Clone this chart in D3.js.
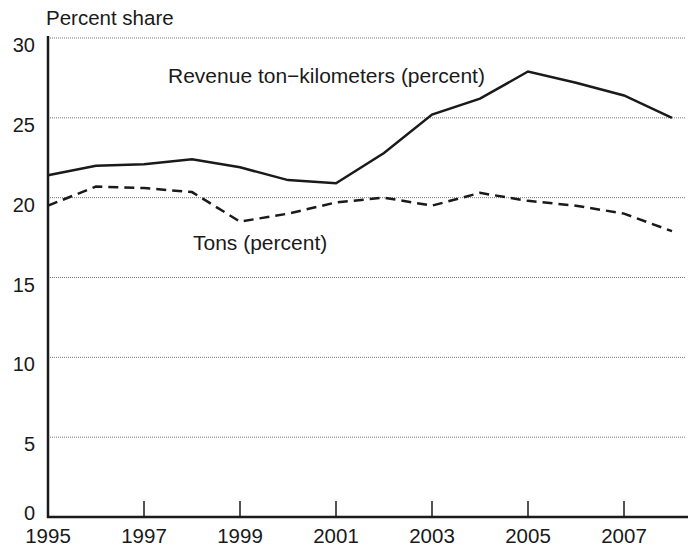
<!DOCTYPE html>
<html><head><meta charset="utf-8">
<script src="https://cdn.jsdelivr.net/npm/d3@7"></script>
<style>body{margin:0;background:#fff}svg{display:block}text{font-family:"Liberation Sans",Arial,sans-serif;fill:#1a1a1a}</style>
</head><body>
<svg id="c" width="688" height="549"></svg>
<script>
const years = [1995,1996,1997,1998,1999,2000,2001,2002,2003,2004,2005,2006,2007,2008];
const revenueTonKm = [21.4,22.0,22.1,22.4,21.9,21.1,20.9,22.8,25.2,26.2,27.9,27.2,26.4,25.0];
const tons = [19.5,20.7,20.6,20.35,18.5,19.0,19.7,20.0,19.5,20.3,19.8,19.5,19.0,17.9];
const yTicks = [0,5,10,15,20,25,30];
const xTicks = [1995,1997,1999,2001,2003,2005,2007];

const svg = d3.select("#c");
const x = d3.scaleLinear().domain([1995,2008]).range([48,672]);
const y = d3.scaleLinear().domain([0,30]).range([517,38]);

// gridlines
svg.append("g").selectAll("line").data(yTicks.filter(d=>d>0)).join("line")
  .attr("x1",48).attr("x2",686).attr("y1",d=>y(d)).attr("y2",d=>y(d))
  .attr("stroke","#777").attr("stroke-width",1).attr("stroke-dasharray","1,1");

// y labels
svg.append("g").selectAll("text").data(yTicks).join("text")
  .attr("x",35).attr("y",d=>d===0? 520 : y(d)+14).attr("text-anchor","end")
  .attr("font-size",20).text(d=>d);

// x ticks
svg.append("g").selectAll("line").data(xTicks.filter(d=>d>1995)).join("line")
  .attr("x1",d=>x(d)).attr("x2",d=>x(d)).attr("y1",517).attr("y2",501)
  .attr("stroke","#1a1a1a").attr("stroke-width",1.5);
svg.append("g").selectAll("text").data(xTicks).join("text")
  .attr("x",d=>x(d)).attr("y",543).attr("text-anchor","middle")
  .attr("font-size",20.5).text(d=>d);

// axes lines
svg.append("line").attr("x1",48).attr("x2",48).attr("y1",36).attr("y2",518)
  .attr("stroke","#1a1a1a").attr("stroke-width",2.5);
svg.append("line").attr("x1",47).attr("x2",688).attr("y1",517).attr("y2",517)
  .attr("stroke","#1a1a1a").attr("stroke-width",2.5);

const line = d3.line().x((d,i)=>x(years[i])).y(d=>y(d));
svg.append("path").attr("d",line(revenueTonKm)).attr("fill","none")
  .attr("stroke","#1a1a1a").attr("stroke-width",2.5);
svg.append("path").attr("d",line(tons)).attr("fill","none")
  .attr("stroke","#1a1a1a").attr("stroke-width",2.5).attr("stroke-dasharray","10,6");

svg.append("text").attr("x",46).attr("y",25).attr("font-size",20.5).text("Percent share");
svg.append("text").attr("x",168).attr("y",83).attr("font-size",21).text("Revenue ton\u2212kilometers (percent)");
svg.append("text").attr("x",193).attr("y",250).attr("font-size",21).text("Tons (percent)");
</script>
</body></html>
